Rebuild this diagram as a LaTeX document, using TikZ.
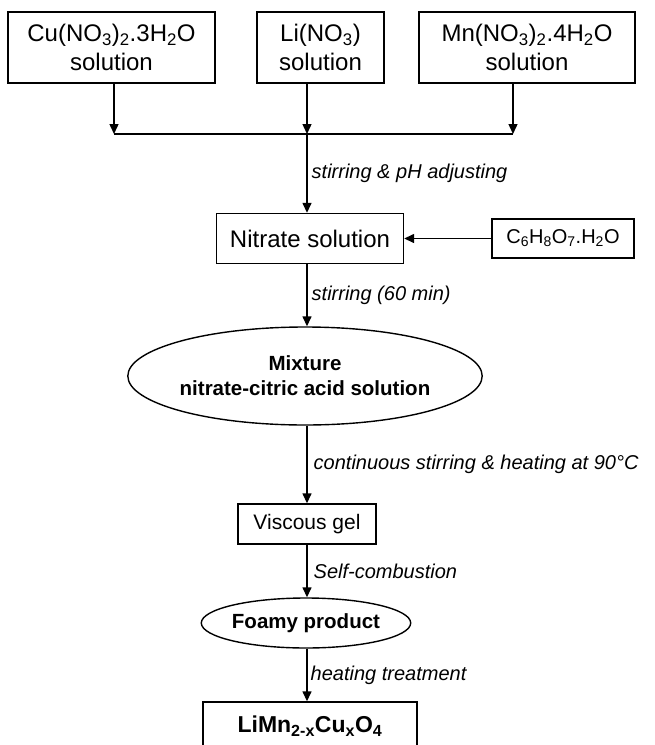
\documentclass[tikz,border=0pt]{standalone}
\usepackage{fontspec}
\setmainfont{Liberation Sans}
\usepackage{tikz}
\usetikzlibrary{arrows.meta, positioning, shapes.geometric}

\begin{document}
\begin{tikzpicture}[
  x=1pt, y=-1pt,
  font=\fontsize{24}{29}\selectfont,
  box/.style={
    draw=black,
    line width=1.4pt,
    align=center,
    inner sep=0pt
  },
  blob/.style={
    ellipse,
    draw=black,
    line width=1.4pt,
    align=center,
    inner sep=0pt,
    font=\bfseries\fontsize{20.5}{25}\selectfont
  },
  arrow/.style={
    draw=black,
    -{Triangle[length=10pt,width=9pt]},
    line width=1.4pt
  },
  note/.style={
    font=\itshape\fontsize{20}{24}\selectfont,
    anchor=west,
    inner sep=0pt
  }
]

\useasboundingbox (0,0) rectangle (654,745);

% Row 1
\node[box, minimum width=207pt, minimum height=71pt] (cusol) at (111.5,47.5)
{Cu(NO\textsubscript{3})\textsubscript{2}.3H\textsubscript{2}O\\solution};

\node[box, minimum width=127pt, minimum height=71pt] (lisol) at (320.5,47.5)
{Li(NO\textsubscript{3})\\solution};

\node[box, minimum width=216pt, minimum height=71pt] (mnsol) at (527,47.5)
{Mn(NO\textsubscript{3})\textsubscript{2}.4H\textsubscript{2}O\\solution};

% Joining line
\coordinate (jcu) at (114,134);
\coordinate (jli) at (307,134);
\coordinate (jmn) at (513,134);

\draw[arrow] (cusol.south -| jcu) -- (jcu);
\draw[arrow] (lisol.south -| jli) -- (jli);
\draw[arrow] (mnsol.south -| jmn) -- (jmn);
\draw[line width=1.4pt] (jcu) -- (jmn);

% Nitrate solution
\node[box, minimum width=187pt, minimum height=50pt] (nitrate) at (310,238.5)
{Nitrate solution};

\node[box, minimum width=142pt, minimum height=39pt,
  font=\fontsize{20}{24}\selectfont] (citric) at (563,238.5)
{C\textsubscript{6}H\textsubscript{8}O\textsubscript{7}.H\textsubscript{2}O};

\draw[arrow] (jli) -- (nitrate.north -| jli)
  node[note, midway, xshift=4pt] (stir) {stirring \& pH adjusting};
\draw[arrow] (citric.west) -- (nitrate.east);

% Mixture
\node[blob, minimum width=302pt, minimum height=98pt] (mixture) at (305,376)
{Mixture\\nitrate-citric acid solution};

\draw[arrow] (nitrate.south -| jli) -- (mixture.north -| jli)
  node[note, midway, xshift=4pt] (stirtime) {stirring (60 min)};

% Viscous gel
\node[box, minimum width=138pt, minimum height=40pt,
  font=\fontsize{21}{25}\selectfont] (gel) at (307,524)
{Viscous gel};

\draw[arrow] (mixture.south -| jli) -- (gel.north -| jli)
  node[note, midway, xshift=6pt] (heat) {continuous stirring \& heating at 90°C};

% Foamy product
\node[blob, minimum width=198pt, minimum height=50pt] (foamy) at (306,623)
{Foamy product};

\draw[arrow] (gel.south -| jli) -- (foamy.north -| jli)
  node[note, midway, xshift=6pt] (combust) {Self-combustion};

% Final product
\node[box, minimum width=214pt, minimum height=48pt,
  font=\bfseries\fontsize{23}{27}\selectfont] (final) at (310,726)
{LiMn\textsubscript{2-x}Cu\textsubscript{x}O\textsubscript{4}};

\draw[arrow] (foamy.south -| jli) -- (final.north -| jli)
  node[note, midway, xshift=3pt] (treat) {heating treatment};

\end{tikzpicture}
\end{document}
